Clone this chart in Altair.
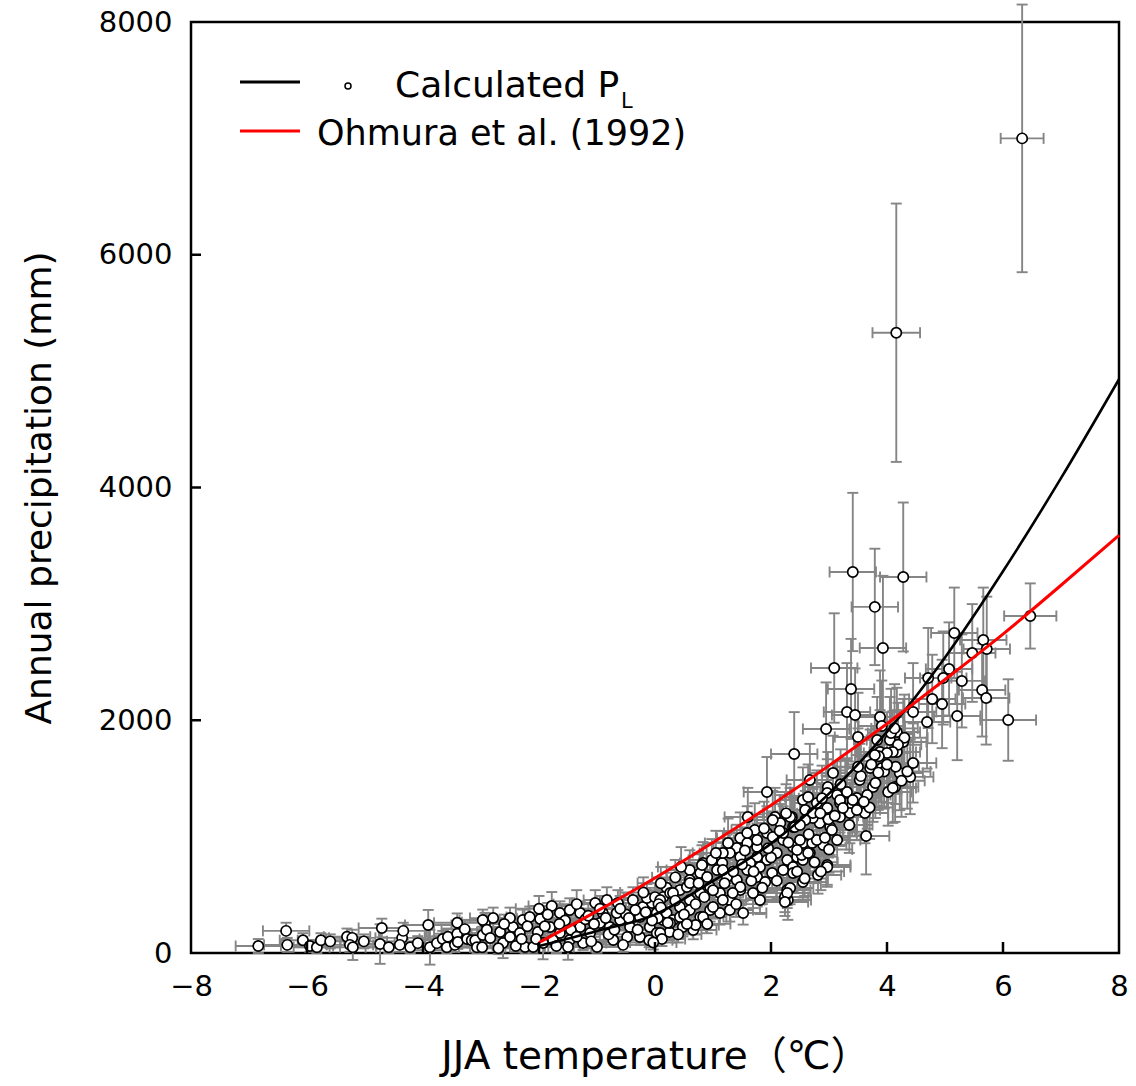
import altair as alt
import pandas as pd

# ---------------- data ----------------
# JJA temperature (degC) of each site
TEMP = [
    -6.84, -6.36, -6.34, -6.07, -5.95, -5.83, -5.76, -5.60, -5.31, -5.22, -5.26, -5.21, -5.02, -4.71, -4.74, -4.59,
    -4.36, -4.34, -4.40, -4.22, -4.09, -3.91, -3.88, -3.76, -3.66, -3.57, -3.59, -3.45, -3.41, -3.41, -3.40, -3.28,
    -3.24, -3.16, -3.10, -3.07, -2.98, -2.93, -2.97, -2.90,
    -1.78, -1.98, -2.28, -2.45, -2.62, -2.79, -2.97, -2.24, -2.10, -1.64, -1.47, -1.29, -1.03, -0.83, -0.64, -0.38,
    -0.21, -0.05, 0.20, 0.14, 0.03, -1.81, -1.64, -1.47, -1.29, -1.12, -0.95, -0.78, -0.60, -0.43, -0.26, -0.09,
    -0.48, -0.26, 0.03, 0.14, -0.72, -1.50, -1.76, -1.93, -2.33, -2.50, -2.67, -2.84, -2.50, -2.16, -2.02, -1.00,
    -1.24, -0.90, -0.66, -0.34, -0.14, 0.00, -2.40, -2.70, -1.70, -1.10, -0.55, -0.10, 0.25,
    1.93, 1.60, 1.72, 1.47, 1.41, 1.59, 1.76, 1.93, 2.07, 2.16, 2.36, 2.55, 2.59, 2.03, 2.21, 2.38, 2.55, 2.45, 2.55, 2.28,
    2.10, 1.93, 1.76, 1.64, 1.47, 1.29, 1.16, 1.07, 0.83, 0.78, 0.60, 0.60, 1.24, 1.41, 1.59, 1.76, 1.90, 2.02, 2.21, 2.38,
    2.55, 2.28, 2.29, 2.24, 1.81, 1.52, 1.69, 1.47, 1.29, 1.12, 0.95, 0.78, 0.60, 0.43, 0.26, 0.09, 0.05, 0.20, 0.31, 0.48,
    0.66, 0.78, 0.95, 1.12, 1.29, 0.60, 0.43, 0.09, 0.55, 0.81, 0.98, 1.17, 1.26, 0.35, 0.10, 0.45,
    3.41, 4.28, 3.79, 3.93, 3.09, 3.38, 3.31, 3.45, 2.95, 2.40, 3.50, 4.71, 4.45, 4.69, 4.17, 4.05, 4.28, 3.88, 4.17, 4.45,
    4.40, 4.22, 4.14, 3.91, 3.71, 3.53, 3.76, 3.66, 3.48, 3.28, 3.14, 3.07, 2.98, 2.67, 2.79, 2.97, 3.19, 3.40, 3.62, 3.36,
    3.19, 3.02, 2.84, 2.72, 3.64, 2.90, 2.71, 2.50, 2.38, 2.33, 2.53, 2.67, 2.97, 2.81, 2.33, 2.38, 3.88, 3.83,
    6.47, 5.16, 5.66, 5.47, 5.72, 5.07, 4.97, 5.29, 5.64, 5.71, 4.78, 4.95, 5.21, 6.09, 6.33, 4.16,
    3.91, 4.07, 4.13, 4.30, 4.19, 4.10, 4.00, 3.86, 3.79, 3.73, 3.95, 3.55, 3.80, 4.02, 4.15, 4.25, 4.35, 4.10,
    3.31, 3.19, 3.41, 3.24, 3.48, 3.70, 2.97, 2.88, 2.72, 2.64, 2.59, 2.99, 3.05, 2.26, 2.41, 2.21, 2.03, 1.88,
    1.76, 1.59, 2.45, 2.64, 2.79, 2.93, 3.14, 2.97, 2.86, 2.58, 2.28, 2.24, 1.50, 1.17, 0.90, 0.60, 0.31, 0.06,
    -0.16, 2.00, 1.81, 1.66, 1.47, 1.34, 1.17, 1.00, 0.83, 0.70, 0.43, 0.26, 0.12, -0.03,
    -2.60, -2.30, -1.90, -1.55, -1.20, -0.80, -0.50, -2.00, -1.35, -0.95,
    -2.20, -2.05, -1.85, -1.65, -1.45, -1.35, -1.15, -1.05, -0.85, -0.70, -0.60, -0.45, -0.30, -0.20, -0.05, 0.10, 0.22,
    0.35, 0.40, 0.50, 0.55, 0.70, 0.75, 0.85, 0.90, 1.00, 1.05, 1.20, 1.35, 1.40, 1.55, 1.70, 1.85, 1.95,
    2.10, 2.15, 2.30, 2.45, 2.50, 2.65, 2.75, 2.85, 3.00, 3.10, 3.20, 3.35, 3.50, 3.60, 3.85, 4.00,
]

# Calculated annual precipitation P_L (mm)
PRECIP = [
    60, 190, 70, 110, 60, 50, 110, 100, 140, 130, 70, 50, 100, 215, 77, 50,
    130, 190, 70, 50, 85, 240, 50, 85, 120, 140, 50, 70, 165, 260, 95, 205,
    120, 110, 110, 50, 50, 265, 155, 200,
    404, 292, 283, 223, 86, 300, 283, 52, 52, 344, 370, 344, 430, 455, 430, 455,
    395, 430, 560, 480, 344, 223, 172, 112, 223, 172, 258, 223, 283, 223, 309, 223,
    138, 138, 172, 283, 112, 52, 112, 86, 172, 138, 180, 129, 300, 309, 180, 52,
    86, 344, 344, 370, 473, 480, 60, 40, 60, 100, 70, 110, 180,
    1384, 1169, 1057, 988, 902, 945, 911, 1031, 1169, 1117, 1169, 1315, 1229, 997, 971, 911, 945, 825, 799, 799,
    859, 799, 825, 773, 825, 859, 773, 713, 773, 688, 713, 627, 653, 627, 713, 653, 610, 688, 713, 739,
    610, 541, 455, 481, 455, 344, 516, 541, 455, 516, 567, 516, 455, 541, 516, 455, 300, 344, 283, 223,
    198, 309, 370, 344, 370, 370, 395, 172, 567, 756, 799, 859, 945, 650, 600, 740,
    3274, 3231, 2974, 2621, 2449, 2269, 2071, 2045, 1925, 1710, 1856, 2363, 2071, 1985, 1899, 1830, 1813, 1727, 1727, 1633,
    1513, 1547, 1427, 1590, 1590, 1487, 1427, 1358, 1332, 1375, 1358, 1547, 1427, 1487, 1289, 1246, 1289, 1272, 1203, 1203,
    1169, 1083, 1117, 1160, 1005, 928, 945, 971, 1083, 1169, 842, 859, 756, 670, 559, 688, 2028, 1830,
    2896, 2750, 2690, 2578, 2612, 2441, 2363, 2338, 2260, 2191, 2183, 2140, 2037, 2002, 7000, 5330,
    1951, 1890, 1930, 1850, 1790, 1727, 1719, 1690, 1701, 1620, 1560, 1520, 1460, 1384, 1600, 1480, 1560, 1418,
    1384, 1315, 1315, 1246, 1229, 1250, 1375, 1330, 1203, 1340, 1143, 1150, 1057, 1200, 1083, 1031, 1143, 1070,
    971, 1031, 885, 860, 971, 990, 971, 739, 700, 640, 516, 438, 760, 713, 653, 602, 516, 420,
    350, 820, 739, 620, 567, 516, 455, 395, 309, 240, 309, 258, 120, 90,
    250, 120, 230, 280, 290, 160, 330, 380, 420, 380,
    230, 120, 330, 250, 200, 140, 320, 250, 300, 200, 380, 300, 200, 520, 280, 390, 260,
    450, 160, 330, 250, 420, 600, 480, 250, 540, 860, 600, 700, 420, 880, 700, 560, 900,
    620, 1050, 950, 700, 1100, 1020, 780, 1200, 890, 1180, 1450, 1100, 1600, 1300, 1550, 1620,
]

# half-widths of the horizontal error bars (degC)
TEMP_ERR = [
    0.39, 0.40, 0.40, 0.40, 0.40, 0.40, 0.40, 0.40, 0.40, 0.40, 0.40, 0.40, 0.40, 0.40, 0.40, 0.40,
    0.40, 0.40, 0.40, 0.40, 0.40, 0.40, 0.40, 0.40, 0.40, 0.40, 0.40, 0.40, 0.40, 0.40, 0.40, 0.40,
    0.40, 0.40, 0.40, 0.40, 0.40, 0.40, 0.40, 0.40,
    0.40, 0.40, 0.40, 0.40, 0.40, 0.40, 0.40, 0.40, 0.40, 0.40, 0.40, 0.40, 0.40, 0.40, 0.40, 0.40,
    0.40, 0.40, 0.40, 0.40, 0.40, 0.40, 0.40, 0.40, 0.40, 0.40, 0.40, 0.40, 0.40, 0.40, 0.40, 0.40,
    0.40, 0.40, 0.40, 0.40, 0.40, 0.40, 0.40, 0.40, 0.40, 0.40, 0.40, 0.40, 0.40, 0.40, 0.40, 0.40,
    0.40, 0.40, 0.40, 0.40, 0.40, 0.40, 0.40, 0.40, 0.40, 0.40, 0.40, 0.40, 0.40,
    0.40, 0.40, 0.40, 0.40, 0.40, 0.40, 0.40, 0.40, 0.40, 0.40, 0.40, 0.40, 0.40, 0.40, 0.40, 0.40, 0.40, 0.40, 0.40, 0.40,
    0.40, 0.40, 0.40, 0.40, 0.40, 0.40, 0.40, 0.40, 0.40, 0.40, 0.40, 0.40, 0.40, 0.40, 0.40, 0.40, 0.40, 0.40, 0.40, 0.40,
    0.40, 0.40, 0.40, 0.40, 0.40, 0.40, 0.40, 0.40, 0.40, 0.40, 0.40, 0.40, 0.40, 0.40, 0.40, 0.40, 0.40, 0.40, 0.40, 0.40,
    0.40, 0.40, 0.40, 0.40, 0.40, 0.40, 0.40, 0.40, 0.40, 0.40, 0.40, 0.40, 0.40, 0.40, 0.40, 0.40,
    0.40, 0.40, 0.40, 0.40, 0.40, 0.40, 0.40, 0.40, 0.40, 0.40, 0.40, 0.40, 0.40, 0.40, 0.40, 0.40, 0.40, 0.40, 0.40, 0.40,
    0.40, 0.40, 0.40, 0.40, 0.40, 0.40, 0.40, 0.40, 0.40, 0.40, 0.40, 0.40, 0.40, 0.40, 0.40, 0.40, 0.40, 0.40, 0.40, 0.40,
    0.40, 0.40, 0.40, 0.40, 0.40, 0.40, 0.40, 0.40, 0.40, 0.40, 0.40, 0.40, 0.40, 0.40, 0.40, 0.40, 0.40, 0.40,
    0.45, 0.40, 0.40, 0.40, 0.40, 0.40, 0.40, 0.40, 0.40, 0.40, 0.40, 0.40, 0.40, 0.48, 0.37, 0.41,
    0.40, 0.40, 0.40, 0.40, 0.40, 0.40, 0.40, 0.40, 0.40, 0.40, 0.40, 0.40, 0.40, 0.40, 0.40, 0.40, 0.40, 0.40,
    0.40, 0.40, 0.40, 0.40, 0.40, 0.40, 0.40, 0.40, 0.40, 0.40, 0.40, 0.40, 0.40, 0.40, 0.40, 0.40, 0.40, 0.40,
    0.40, 0.40, 0.40, 0.40, 0.40, 0.40, 0.40, 0.40, 0.40, 0.40, 0.40, 0.40, 0.40, 0.40, 0.40, 0.40, 0.40, 0.40,
    0.40, 0.40, 0.40, 0.40, 0.40, 0.40, 0.40, 0.40, 0.40, 0.40, 0.40, 0.40, 0.40, 0.40,
    0.40, 0.40, 0.40, 0.40, 0.40, 0.40, 0.40, 0.40, 0.40, 0.40,
    0.40, 0.40, 0.40, 0.40, 0.40, 0.40, 0.40, 0.40, 0.40, 0.40, 0.40, 0.40, 0.40, 0.40, 0.40, 0.40, 0.40,
    0.40, 0.40, 0.40, 0.40, 0.40, 0.40, 0.40, 0.40, 0.40, 0.40, 0.40, 0.40, 0.40, 0.40, 0.40, 0.40, 0.40,
    0.40, 0.40, 0.40, 0.40, 0.40, 0.40, 0.40, 0.40, 0.40, 0.40, 0.40, 0.40, 0.40, 0.40, 0.40, 0.40,
]

# half-heights of the vertical error bars (mm)
PRECIP_ERR = [
    60, 70, 60, 60, 50, 50, 60, 60, 70, 70, 60, 110, 60, 80, 170, 50,
    60, 70, 60, 50, 60, 130, 150, 60, 70, 70, 50, 60, 70, 80, 60, 80,
    70, 60, 60, 50, 50, 80, 70, 80,
    120, 90, 90, 80, 130, 90, 90, 50, 50, 100, 100, 100, 110, 110, 110, 110,
    100, 110, 130, 120, 100, 80, 70, 60, 80, 70, 80, 80, 90, 80, 90, 80,
    70, 70, 70, 90, 60, 110, 60, 140, 70, 70, 70, 70, 90, 90, 70, 50,
    60, 100, 100, 100, 120, 120, 50, 50, 60, 60, 60, 60, 70,
    300, 250, 230, 220, 200, 210, 200, 230, 250, 240, 250, 280, 260, 220, 220, 200, 210, 190, 180, 180,
    190, 180, 190, 180, 190, 190, 180, 170, 180, 160, 170, 150, 150, 150, 170, 150, 150, 160, 170, 170,
    150, 130, 170, 130, 120, 100, 130, 130, 120, 130, 140, 130, 120, 130, 130, 120, 90, 100, 90, 80,
    80, 90, 100, 100, 100, 100, 100, 70, 140, 170, 180, 190, 210, 150, 140, 170,
    680, 640, 500, 620, 470, 430, 420, 400, 400, 360, 380, 430, 420, 400, 380, 370, 370, 360, 360, 340,
    320, 320, 300, 330, 330, 310, 300, 290, 290, 290, 290, 320, 300, 310, 280, 270, 280, 270, 260, 260,
    250, 240, 240, 250, 330, 210, 210, 220, 240, 250, 190, 190, 170, 160, 140, 160, 400, 370,
    280, 390, 450, 420, 450, 400, 400, 400, 400, 400, 380, 380, 380, 350, 1150, 1110,
    390, 380, 380, 370, 360, 350, 350, 340, 340, 330, 320, 310, 300, 290, 320, 310, 320, 300,
    290, 280, 280, 270, 260, 270, 290, 280, 260, 280, 250, 250, 230, 250, 240, 230, 250, 230,
    220, 230, 200, 190, 220, 220, 220, 170, 160, 150, 130, 120, 170, 170, 150, 140, 130, 110,
    100, 180, 170, 150, 140, 130, 120, 100, 90, 80, 90, 80, 60, 60,
    80, 60, 80, 90, 90, 70, 100, 110, 120, 110,
    80, 60, 100, 80, 70, 60, 100, 80, 90, 70, 110, 90, 70, 130, 90, 100, 80,
    120, 70, 100, 80, 110, 140, 120, 80, 130, 190, 140, 160, 110, 200, 160, 140, 200,
    150, 230, 210, 160, 240, 230, 180, 260, 200, 250, 300, 240, 330, 280, 320, 330,
]

# curves
CURVE_T = [-2, -1, 0, 1, 2, 3, 4, 5, 6, 7, 8]
CALC_PL = [60, 190, 330, 620, 940, 1370, 1900, 2540, 3280, 4080, 4930]
OHMURA = [90, 360, 645, 950, 1270, 1610, 1970, 2350, 2740, 3160, 3590]

X_LABEL_VALUES = [-8, -6, -4, -2, 0, 2, 4, 6, 8]
Y_LABEL_VALUES = [0, 2000, 4000, 6000, 8000]
X_INNER_TICKS = [-6, -4, -2, 0, 2, 4, 6]
Y_INNER_TICKS = [2000, 4000, 6000]

LEGEND_1 = "Calculated P"
LEGEND_1_SUB = "L"
LEGEND_2 = "Ohmura et al. (1992)"
X_TITLE = "JJA temperature\uff08\u2103\uff09"
Y_TITLE = "Annual precipitation (mm)"

# ---------------- styling ----------------
FONT = "DejaVu Sans"
TITLE_FONT = "DejaVu Sans, Noto Sans CJK JP"
GREY = "#858585"
W, H = 928, 931

pts = pd.DataFrame({"T": TEMP, "P": PRECIP, "dT": TEMP_ERR, "dP": PRECIP_ERR})
pts["Tlo"] = pts["T"] - pts["dT"]
pts["Thi"] = pts["T"] + pts["dT"]
pts["Plo"] = pts["P"] - pts["dP"]
pts["Phi"] = pts["P"] + pts["dP"]

curves = pd.DataFrame({"T": CURVE_T, "calc": CALC_PL, "ohmura": OHMURA})

xs = alt.Scale(domain=[-8, 8], nice=False, zero=False)
ys = alt.Scale(domain=[0, 8000], nice=False, zero=False)

x_axis = alt.Axis(
    values=X_LABEL_VALUES, title=X_TITLE, grid=False, domain=False, ticks=False,
    labelFontSize=29, titleFontSize=39, labelPadding=19, titlePadding=36,
    labelFlush=False, labelOverlap=False, labelColor="black", titleColor="black",
    titleFontWeight="normal", labelFont=FONT, titleFont=TITLE_FONT,
)
y_axis = alt.Axis(
    values=Y_LABEL_VALUES, title=Y_TITLE, grid=False, domain=False, ticks=False, format="d",
    labelFontSize=29, titleFontSize=36, labelPadding=19, titlePadding=40,
    labelFlush=False, labelOverlap=False, labelColor="black", titleColor="black",
    titleFontWeight="normal", labelFont=FONT, titleFont=TITLE_FONT,
)


def X(field):
    return alt.X(field, scale=xs, axis=x_axis)


def Y(field):
    return alt.Y(field, scale=ys, axis=y_axis)


base = alt.Chart(pts)

v_bars = base.mark_rule(color=GREY, strokeWidth=1.9).encode(x=X("T:Q"), y=Y("Plo:Q"), y2="Phi:Q")
h_bars = base.mark_rule(color=GREY, strokeWidth=1.9).encode(x=X("Tlo:Q"), x2="Thi:Q", y=Y("P:Q"))
tick_kw = dict(color=GREY, size=11, thickness=1.9, opacity=1)
cap_lo = base.mark_tick(orient="horizontal", **tick_kw).encode(x=X("T:Q"), y=Y("Plo:Q"))
cap_hi = base.mark_tick(orient="horizontal", **tick_kw).encode(x=X("T:Q"), y=Y("Phi:Q"))
cap_l = base.mark_tick(orient="vertical", **tick_kw).encode(x=X("Tlo:Q"), y=Y("P:Q"))
cap_r = base.mark_tick(orient="vertical", **tick_kw).encode(x=X("Thi:Q"), y=Y("P:Q"))

points = base.mark_point(
    shape="circle", filled=True, fill="white", stroke="black", strokeWidth=1.7, size=105, opacity=1
).encode(x=X("T:Q"), y=Y("P:Q"))

line_calc = alt.Chart(curves).mark_line(color="black", strokeWidth=2.6, interpolate="monotone").encode(
    x=X("T:Q"), y=Y("calc:Q"))
line_ohm = alt.Chart(curves).mark_line(color="#ff0000", strokeWidth=3, interpolate="monotone").encode(
    x=X("T:Q"), y=Y("ohmura:Q"))

xt = alt.Chart(pd.DataFrame({"v": X_INNER_TICKS})).mark_rule(color="black", strokeWidth=2.5).encode(
    x=X("v:Q"), y=alt.value(H), y2=alt.value(H - 11))
yt = alt.Chart(pd.DataFrame({"v": Y_INNER_TICKS})).mark_rule(color="black", strokeWidth=2.5).encode(
    y=Y("v:Q"), x=alt.value(0), x2=alt.value(10))

one = pd.DataFrame({"a": [0]})
leg_line1 = alt.Chart(one).mark_rule(color="black", strokeWidth=3).encode(
    x=alt.value(49), x2=alt.value(109), y=alt.value(60))
leg_pt = alt.Chart(one).mark_point(
    shape="circle", filled=True, fill="white", stroke="black", strokeWidth=1.5, size=36, opacity=1
).encode(x=alt.value(157), y=alt.value(64))
leg_txt1 = alt.Chart(pd.DataFrame({"t": [LEGEND_1]})).mark_text(
    font=FONT, fontSize=36, align="left", baseline="alphabetic", color="black"
).encode(x=alt.value(204), y=alt.value(75), text="t:N")
leg_sub = alt.Chart(pd.DataFrame({"t": [LEGEND_1_SUB]})).mark_text(
    font=FONT, fontSize=21, align="left", baseline="alphabetic", color="black"
).encode(x=alt.value(430), y=alt.value(86), text="t:N")
leg_line2 = alt.Chart(one).mark_rule(color="#ff0000", strokeWidth=3).encode(
    x=alt.value(49), x2=alt.value(109), y=alt.value(109))
leg_txt2 = alt.Chart(pd.DataFrame({"t": [LEGEND_2]})).mark_text(
    font=FONT, fontSize=35, align="left", baseline="alphabetic", color="black"
).encode(x=alt.value(126), y=alt.value(123), text="t:N")

chart = alt.layer(
    v_bars, h_bars, cap_lo, cap_hi, cap_l, cap_r, points, line_calc, line_ohm, xt, yt,
    leg_line1, leg_pt, leg_txt1, leg_sub, leg_line2, leg_txt2,
).properties(
    width=W, height=H,
    autosize=alt.AutoSizeParams(type="none"),
    padding={"left": 191, "top": 22, "right": 17, "bottom": 133},
    background="white",
).configure(font=FONT).configure_view(stroke="black", strokeWidth=2.5)

chart.save("out.html", embed_options={"renderer": "svg", "actions": False})
